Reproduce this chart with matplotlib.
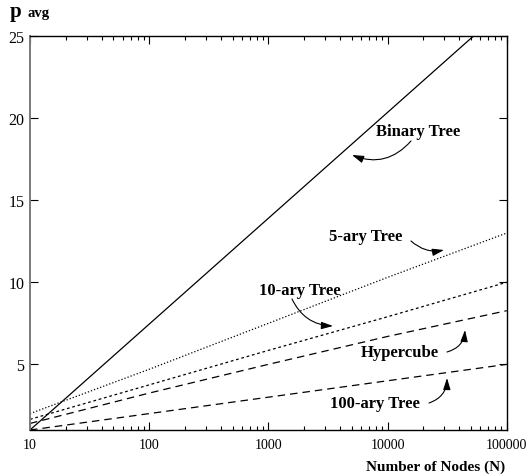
import matplotlib
matplotlib.use("Agg")
import matplotlib.pyplot as plt
from matplotlib.ticker import LogLocator, NullFormatter, FixedLocator, FixedFormatter

# ---- data ----
nodes = [10, 100, 1000, 10000, 100000]
binary_tree = [1.0, 7.45, 13.9, 20.35, 26.8]
five_ary = [2.0, 4.7, 7.5, 10.3, 13.0]
ten_ary = [1.65, 3.75, 5.85, 7.9, 10.0]
hypercube = [1.4, 3.25, 5.0, 6.7, 8.27]
hundred_ary = [1.0, 2.0, 3.0, 4.0, 5.0]

x_ticks = [10, 100, 1000, 10000, 100000]
x_tick_labels = ["10", "100", "1000", "10000", "100000"]
y_ticks = [5, 10, 15, 20, 25]
y_tick_labels = ["5", "10", "15", "20", "25"]

SERIF = ["Liberation Serif", "DejaVu Serif"]
plt.rcParams["font.family"] = SERIF

fig = plt.figure(figsize=(5.29, 4.77), dpi=100)
ax = fig.add_axes([0.0567, 0.0964, 0.9013, 0.826])

ax.plot(nodes, binary_tree, color="black", lw=0.9, ls="-")
ax.plot(nodes, five_ary, color="black", lw=0.9, ls=(0, (1, 1.6)))
ax.plot(nodes, ten_ary, color="black", lw=0.9, ls=(0, (2.2, 2.2)))
ax.plot(nodes, hypercube, color="black", lw=0.9, ls=(0, (6, 4)))
ax.plot(nodes, hundred_ary, color="black", lw=0.9, ls=(0, (6, 4)))

ax.set_xscale("log")
ax.set_xlim(10, 100000)
ax.set_ylim(1, 25)

ax.xaxis.set_major_locator(FixedLocator(x_ticks))
ax.xaxis.set_major_formatter(FixedFormatter(x_tick_labels))
ax.xaxis.set_minor_locator(LogLocator(base=10, subs=range(2, 10)))
ax.xaxis.set_minor_formatter(NullFormatter())
ax.yaxis.set_major_locator(FixedLocator(y_ticks))
ax.yaxis.set_major_formatter(FixedFormatter(y_tick_labels))

ax.tick_params(axis="both", which="major", direction="in", length=6, width=0.8,
               top=True, right=True, colors="black")
ax.tick_params(axis="both", which="minor", direction="in", length=3, width=0.8,
               top=True, right=True)
ax.tick_params(axis="x", which="major", pad=6, labelsize=10)
ax.tick_params(axis="y", which="major", pad=4, labelsize=11.5)

for s in ["top", "bottom", "right"]:
    ax.spines[s].set_linewidth(1.0)
    ax.spines[s].set_color("black")
ax.spines["left"].set_linewidth(1.4)
ax.spines["left"].set_color("#7a7a7a")

# axis titles
fig.text(10 / 529, 1 - 17 / 477, "p", fontsize=15, fontweight="bold", ha="left", va="baseline")
fig.text(27 / 529, 1 - 17 / 477, "avg", fontsize=10.5, fontweight="bold", ha="left", va="baseline")
fig.text(505 / 529, 1 - 471 / 477, "Number of Nodes (N)", fontsize=11, fontweight="bold",
         ha="right", va="baseline")

def px(x, y):
    """figure-pixel coordinates (top-left origin) to figure fraction"""
    return (x / 529, 1 - y / 477)

def label(text, center, start, end, rad):
    fig.text(*px(*center), text, fontsize=12, fontweight="bold", ha="center", va="center")
    ax.annotate("", xy=px(*end), xycoords="figure fraction",
                xytext=px(*start), textcoords="figure fraction",
                arrowprops=dict(arrowstyle="-|>,head_length=0.7,head_width=0.22",
                                color="black", lw=0.8,
                                connectionstyle=f"arc3,rad={rad}",
                                shrinkA=0, shrinkB=0))

label("Binary Tree", (418, 132), (411, 142), (352, 156), -0.35)
label("5-ary Tree", (366, 237), (411, 242), (444, 251), 0.25)
label("10-ary Tree", (300, 291), (292, 300), (333, 327), 0.3)
label("Hypercube", (400, 353), (447, 353), (465, 331), 0.35)
label("100-ary Tree", (375, 404), (429, 404), (447, 379), 0.35)

fig.savefig("out.png", dpi=100)
